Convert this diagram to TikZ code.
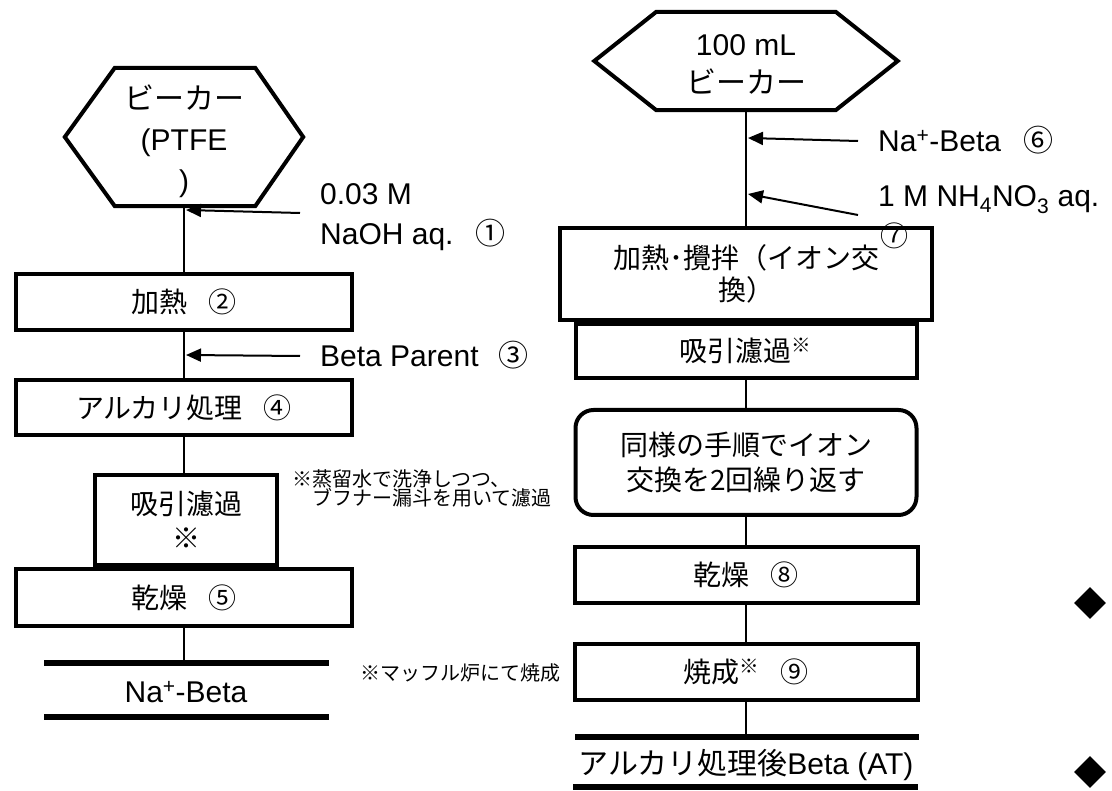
\documentclass[tikz,border=0pt]{standalone}
\usepackage{fontspec}
\setmainfont{Liberation Sans}
\newfontfamily\jp{Noto Sans CJK JP}
\usetikzlibrary{arrows.meta,shapes.geometric}
\begin{document}
\begin{tikzpicture}[x=1pt,y=-1pt,
  proc/.style={draw, line width=4pt, rectangle, inner sep=0pt, align=center,
    font=\jp\fontsize{28}{34}\selectfont},
  hexbody/.style={inner sep=0pt},
  hexline/.style={line width=4pt, line join=miter},
  link/.style={line width=1.5pt},
  feed/.style={line width=2pt, -{Triangle[length=15pt,width=13pt]}},
  lbl/.style={anchor=base west, inner sep=0pt, align=left,
    font=\fontsize{30}{40}\selectfont},
  note/.style={anchor=base west, inner sep=0pt, align=left,
    font=\jp\fontsize{20}{18}\selectfont},
  bar/.style={line width=6pt},
  gem/.style={diamond, fill=black, inner sep=0pt, minimum width=32pt, minimum height=32pt},
]
\useasboundingbox (0,0) rectangle (1112,791);

% ---------------- left column: Na+-Beta preparation ----------------
\node[hexbody, minimum width=238pt, minimum height=138pt] (hexL) at (184,137) {};
\draw[hexline] (hexL.west) -- ([xshift=50pt]hexL.north west)
  -- ([xshift=-48pt]hexL.north east) -- (hexL.east)
  -- ([xshift=-48pt]hexL.south east) -- ([xshift=50pt]hexL.south west) -- cycle;
\node[align=center, inner sep=0pt, font=\fontsize{30}{41}\selectfont]
  (hexLtxt) at (184,141) {{\jp ビーカー}\\(PTFE\\)};

\node[proc, minimum width=336pt, minimum height=56pt] (heat) at (184,302) {加熱\hspace{0.75em}②};
\node[proc, minimum width=336pt, minimum height=55pt] (alk) at (184,407.5) {アルカリ処理\hspace{0.75em}④};
\node[proc, minimum width=182pt, minimum height=90pt] (filtL) at (186,520) {吸引濾過\\※};
\node[proc, minimum width=336pt, minimum height=57pt] (dryL) at (184,597.5) {乾燥\hspace{0.75em}⑤};

\coordinate (outLtop) at (184,663);
\draw[bar] (44,663) -- (329,663);
\draw[bar] (44,717) -- (329,717);
\node[inner sep=0pt, font=\fontsize{30}{36}\selectfont] (outL) at (186,692) {Na\textsuperscript{+}-Beta};

\draw[link] (hexL.south) -- (heat.north);
\draw[link] (heat.south) -- (alk.north);
\draw[link] (alk.south) -- (alk.south |- filtL.north);
\draw[link] (dryL.south) -- (outLtop);

\coordinate (f1) at (300,213);
\coordinate (f1tip) at (186,210);
\draw[feed] (f1) -- (f1tip);
% baseline of a multi-line node is that of its last line
\node[lbl] (naoh) at (320,245) {0.03 M\\NaOH aq.\hspace{22pt}{\jp ①}};

\coordinate (f3) at (300,356);
\coordinate (f3tip) at (186,355);
\draw[feed] (f3) -- (f3tip);
\node[lbl] (parent) at (320,367) {Beta Parent\hspace{20pt}{\jp ③}};

\node[note] (noteA) at (292,506) {※蒸留水で洗浄しつつ、\\\hspace{1em}ブフナー漏斗を用いて濾過};
\node[note] (noteB) at (360,680) {※マッフル炉にて焼成};

% ---------------- right column: ion exchange and calcination ----------------
\node[hexbody, minimum width=303pt, minimum height=98pt] (hexR) at (746,61) {};
\draw[hexline] (hexR.west) -- ([xshift=62pt]hexR.north west)
  -- ([xshift=-62pt]hexR.north east) -- (hexR.east)
  -- ([xshift=-62pt]hexR.south east) -- ([xshift=62pt]hexR.south west) -- cycle;
\node[align=center, inner sep=0pt, font=\fontsize{30}{38}\selectfont]
  (hexRtxt) at (746,64) {100 mL\\{\jp ビーカー}};

\node[proc, minimum width=372pt, minimum height=92pt, font=\jp\fontsize{28}{32}\selectfont]
  (stir) at (746,274) {加熱･攪拌（イオン交\\換）};
\node[proc, minimum width=341pt, minimum height=54pt] (filtR) at (746,351) {吸引濾過\textsuperscript{※}};
\node[proc, rounded corners=18pt, minimum width=341pt, minimum height=105pt,
  font=\jp\fontsize{28}{35}\selectfont] (rep) at (746,462.5) {同様の手順でイオン\\交換を2回繰り返す};
\node[proc, minimum width=343pt, minimum height=56pt] (dryR) at (746,575) {乾燥\hspace{0.75em}⑧};
\node[proc, minimum width=343pt, minimum height=56pt] (calc) at (746,672) {焼成\textsuperscript{※}\hspace{0.75em}⑨};

\coordinate (outRtop) at (746,737);
\draw[bar] (575,737) -- (919,737);
\draw[bar] (573,787) -- (918,787);
\node[inner sep=0pt, font=\fontsize{30}{36}\selectfont] (outR) at (746,765) {{\jp アルカリ処理後}Beta (AT)};

\draw[link] (hexR.south) -- (stir.north);
\draw[link] (filtR.south) -- (rep.north);
\draw[link] (rep.south) -- (dryR.north);
\draw[link] (dryR.south) -- (calc.north);
\draw[link] (calc.south) -- (outRtop);

\coordinate (f6) at (858,141);
\coordinate (f6tip) at (748,138);
\draw[feed] (f6) -- (f6tip);
\node[lbl] (nabeta) at (878,152) {Na\textsuperscript{+}-Beta\hspace{22pt}{\jp ⑥}};

\coordinate (f7) at (858,215);
\coordinate (f7tip) at (748,194);
\draw[feed] (f7) -- (f7tip);
\node[lbl] (nh4) at (878,207) {1 M NH\textsubscript{4}NO\textsubscript{3} aq.};
\node[inner sep=0pt, font=\jp\fontsize{28}{32}\selectfont] (seven) at (894,236) {⑦};

% ---------------- bullets on the right margin ----------------
\node[gem] (gemA) at (1090,603) {};
\node[gem] (gemB) at (1090,772) {};
\end{tikzpicture}
\end{document}
